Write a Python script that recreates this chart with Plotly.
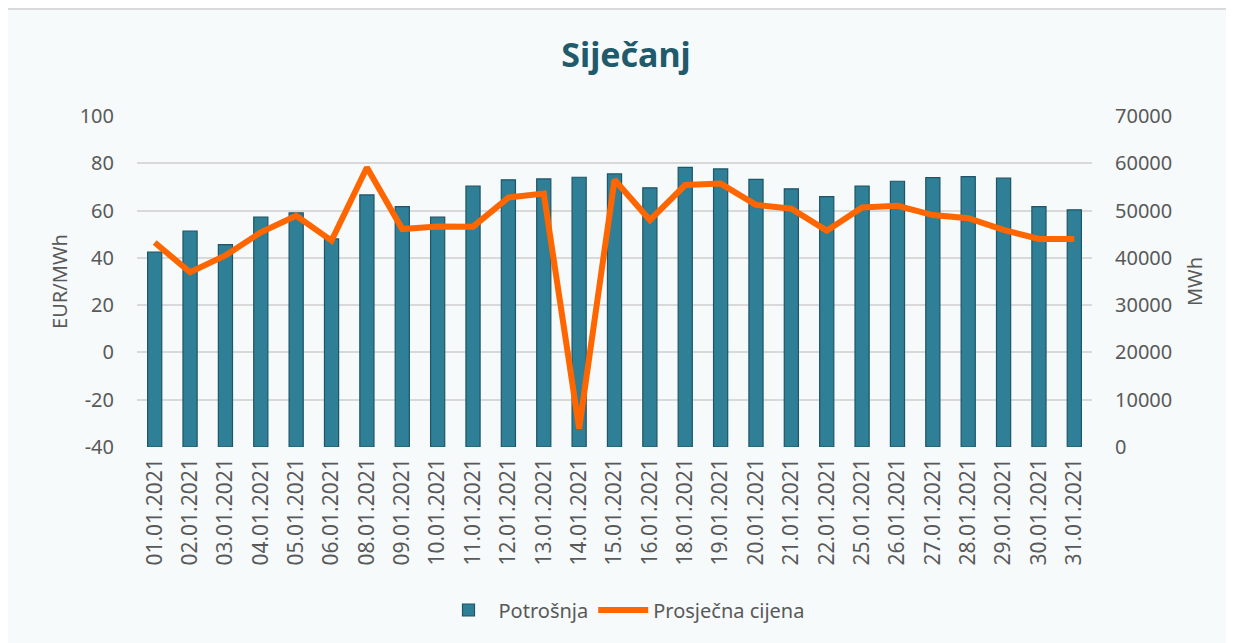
import plotly.graph_objects as go

dates = ["01.01.2021", "02.01.2021", "03.01.2021", "04.01.2021", "05.01.2021", "06.01.2021",
         "08.01.2021", "09.01.2021", "10.01.2021", "11.01.2021", "12.01.2021", "13.01.2021",
         "14.01.2021", "15.01.2021", "16.01.2021", "18.01.2021", "19.01.2021", "20.01.2021",
         "21.01.2021", "22.01.2021", "25.01.2021", "26.01.2021", "27.01.2021", "28.01.2021",
         "29.01.2021", "30.01.2021", "31.01.2021"]

potrosnja = [41200, 45650, 42800, 48600, 49500, 44000, 53300, 50850, 48600, 55150,
             56500, 56700, 57050, 57750, 54800, 59150, 58800, 56600, 54600, 52950,
             55200, 56200, 56950, 57200, 56850, 50850, 50150]

cijena = [46.5, 33.9, 41.0, 50.8, 57.8, 47.3, 78.2, 52.2, 53.3, 53.2,
          65.5, 67.2, -32.2, 73.0, 56.0, 70.8, 71.4, 62.4, 60.8, 51.5,
          61.3, 62.0, 58.1, 56.8, 51.8, 48.0, 48.0]

left_ticks = [-40, -20, 0, 20, 40, 60, 80, 100]
left_labels = ["-40", "-20", "0", "20", "40", "60", "80", "100"]
right_ticks = [0, 10000, 20000, 30000, 40000, 50000, 60000, 70000]
right_labels = ["0", "10000", "20000", "30000", "40000", "50000", "60000", "70000"]

FONT = "Noto Sans"
GREY = "#595959"

fig = go.Figure()
fig.add_trace(go.Bar(
    x=dates, y=potrosnja, name="Potrošnja", yaxis="y",
    marker=dict(color="#2F7F97", line=dict(color="#1E5567", width=1.2)),
))
fig.add_trace(go.Scatter(
    x=dates, y=cijena, name="Prosječna cijena", yaxis="y2",
    mode="lines", line=dict(color="#FF6600", width=6),
))

W, H = 1234, 643
OFF = 8  # page body margin
L = 137 - OFF
T = 116 - OFF
R = W - (1092 - OFF)
B = H - (447 - OFF)
pw, ph = W - L - R, H - T - B

def px_x(p):  # page pixel -> paper
    return (p - OFF - L) / pw

def px_y(p):
    return (H - B - (p - OFF)) / ph

fig.add_shape(type="rect", xref="paper", yref="paper",
              x0=px_x(3), x1=px_x(1231), y0=px_y(660), y1=px_y(9),
              fillcolor="#F6FAFB", line=dict(color="#D9D9D9", width=2), layer="below")

fig.update_layout(
    width=W, height=H,
    margin=dict(l=L, r=R, t=T, b=B),
    paper_bgcolor="white", plot_bgcolor="rgba(0,0,0,0)",
    bargap=0.6,
    font=dict(family=FONT, color=GREY, size=20),
    title=dict(text="<b>Siječanj</b>", x=px_x(626), xanchor="center", xref="paper",
               y=1 - (55 - OFF) / H, yref="container", yanchor="middle",
               font=dict(family=FONT, size=34, color="#215A6B")),
    xaxis=dict(type="category", tickangle=-90, showgrid=False, zeroline=False,
               tickfont=dict(size=21, color=GREY), ticks="", showline=False,
               ticklabelstandoff=6),
    yaxis=dict(range=[0, 70000], tickvals=right_ticks, ticktext=right_labels, side="right",
               showgrid=True, gridcolor="#D9D9D9", gridwidth=1.5, zeroline=False,
               title=dict(text="MWh", font=dict(size=20, color=GREY), standoff=16),
               tickfont=dict(size=20, color=GREY), ticklabelstandoff=22),
    yaxis2=dict(range=[-40, 100], tickvals=left_ticks, ticktext=left_labels,
                overlaying="y", side="left", showgrid=False, zeroline=False,
                title=dict(text="EUR/MWh", font=dict(size=20, color=GREY), standoff=6),
                tickfont=dict(size=20, color=GREY), ticklabelstandoff=22),
    legend=dict(orientation="h", x=px_x(624), xanchor="center", y=px_y(610), yanchor="middle",
                font=dict(size=20, color=GREY), bgcolor="rgba(0,0,0,0)",
                traceorder="normal", itemwidth=50),
)

fig.write_html("out.html")
